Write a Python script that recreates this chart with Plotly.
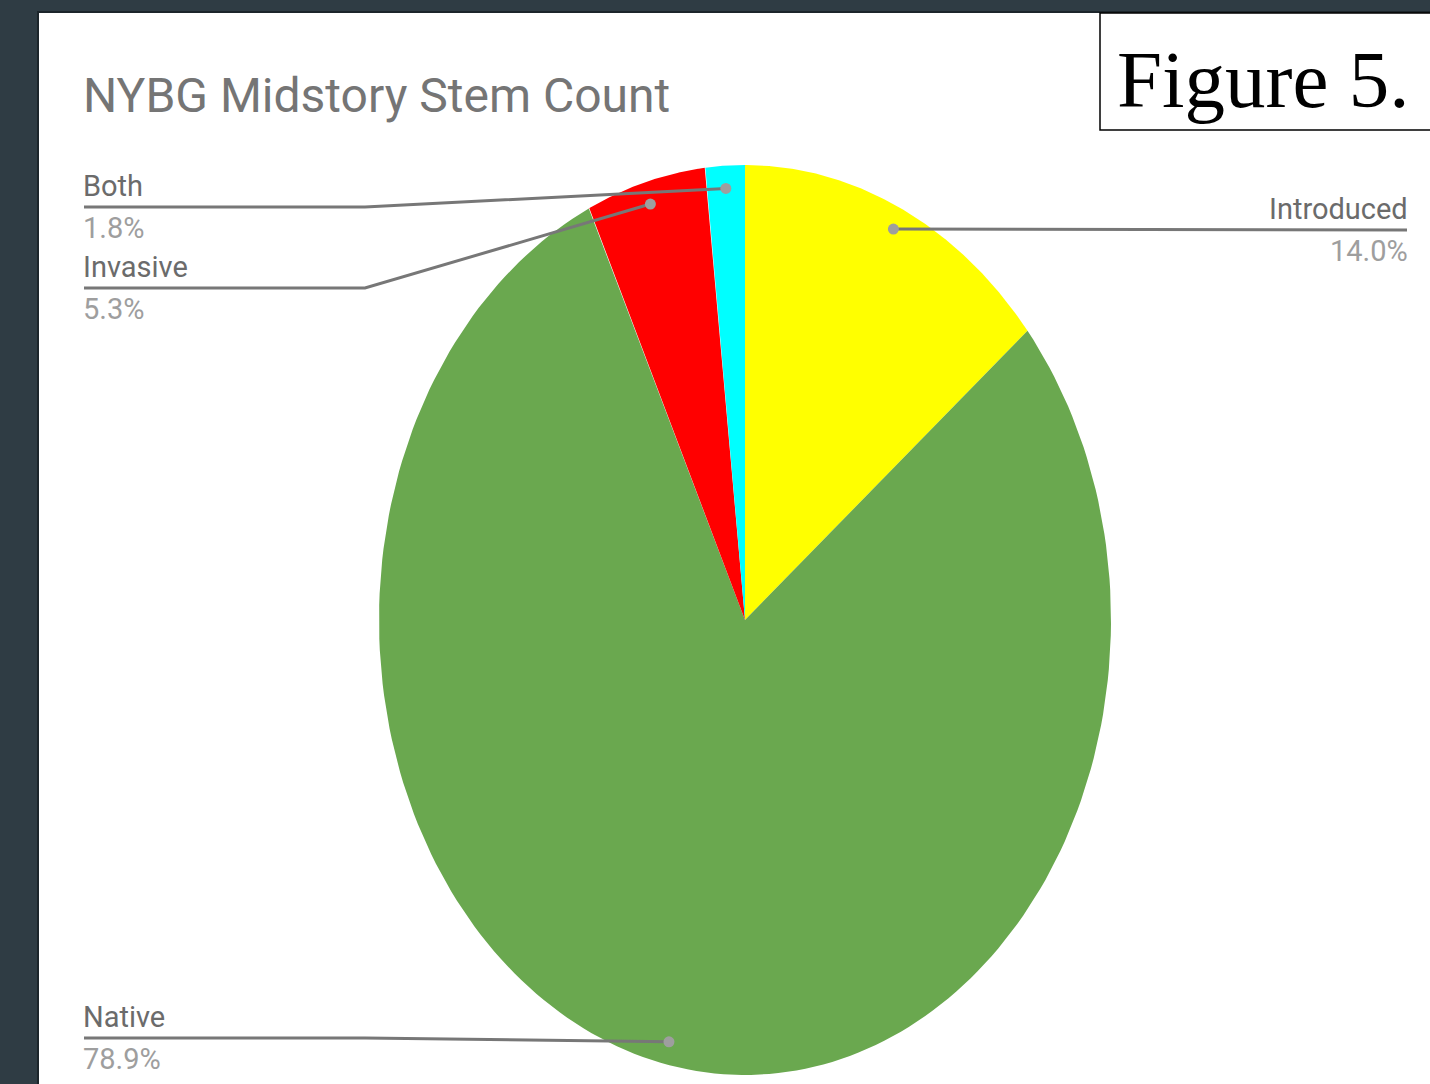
import numpy as np
import plotly.graph_objects as go

# ---- data ----
categories = ["Introduced", "Native", "Invasive", "Both"]
stem_counts = [8, 45, 3, 1]
slice_colors = ["#ffff00", "#6aa84f", "#ff0000", "#00ffff"]
title_text = "NYBG Midstory Stem Count"
figure_label = "Figure 5."

# ---- layout constants (pixel space) ----
W, H = 1430, 1084
CX, CY, RX, RY = 745, 620, 366, 455
DOT_R = 0.95

vals = np.array(stem_counts, dtype=float)
fracs = vals / vals.sum()
bounds = np.concatenate([[0], np.cumsum(fracs)]) * 2 * np.pi

fig = go.Figure()

# slices (clockwise from 12 o'clock)
for i, (name, col) in enumerate(zip(categories, slice_colors)):
    th = np.linspace(bounds[i], bounds[i + 1], 200)
    xs = np.concatenate([[CX], CX + RX * np.sin(th), [CX]])
    ys = np.concatenate([[CY], CY - RY * np.cos(th), [CY]])
    fig.add_trace(go.Scatter(x=xs, y=ys, mode="lines", fill="toself",
                             fillcolor=col, line=dict(width=0, color=col),
                             hoverinfo="text", text=name, showlegend=False))

# label geometry
label_pos = {
    "Introduced": dict(ly=230, side="right", end=1407),
    "Both": dict(ly=207, side="left", end=84),
    "Invasive": dict(ly=288, side="left", end=84),
    "Native": dict(ly=1038, side="left", end=84),
}

mids = (bounds[:-1] + bounds[1:]) / 2
dot_x, dot_y = [], []
for i, name in enumerate(categories):
    dx = CX + RX * DOT_R * np.sin(mids[i])
    dy = CY - RY * DOT_R * np.cos(mids[i])
    dot_x.append(dx)
    dot_y.append(dy)
    p = label_pos[name]
    if p["side"] == "left":
        lx = [dx, 365, p["end"]]
        ly = [dy, p["ly"], p["ly"]]
        xa = "left"
        tx = p["end"] - 2
    else:
        lx = [dx, p["end"]]
        ly = [dy, p["ly"]]
        xa = "right"
        tx = p["end"] + 2
    fig.add_trace(go.Scatter(x=lx, y=ly, mode="lines",
                             line=dict(color="#777777", width=3),
                             hoverinfo="skip", showlegend=False))
    fig.add_annotation(x=tx, y=p["ly"] - 3, text=name, showarrow=False,
                       xanchor=xa, yanchor="bottom", xref="x", yref="y",
                       borderpad=0,
                       font=dict(family="Roboto", size=29, color="#6b6b6b"))
    fig.add_annotation(x=tx, y=p["ly"] + 3, text=f"{fracs[i]*100:.1f}%",
                       showarrow=False, xanchor=xa, yanchor="top",
                       xref="x", yref="y", borderpad=0,
                       font=dict(family="Roboto", size=29, color="#9e9e9e"))

fig.add_trace(go.Scatter(x=dot_x, y=dot_y, mode="markers",
                         marker=dict(color="#9e9e9e", size=11),
                         hoverinfo="skip", showlegend=False))

# title
fig.add_annotation(x=82, y=95, text=title_text, showarrow=False,
                   xanchor="left", yanchor="middle", xref="x", yref="y",
                   borderpad=0,
                   font=dict(family="Roboto", size=48, color="#757575"))

# figure label box
fig.add_shape(type="rect", x0=1100, y0=13, x1=1432, y1=130, xref="x", yref="y",
              line=dict(color="#000000", width=1.5), fillcolor="white", layer="above")
fig.add_annotation(x=1263, y=80, text=figure_label, showarrow=False,
                   xanchor="center", yanchor="middle", xref="x", yref="y",
                   font=dict(family="Liberation Serif", size=81, color="#000000"))

# white panel
fig.add_shape(type="rect", x0=38, y0=12, x1=1432, y1=1090, xref="x", yref="y",
              line=dict(color="#1c252b", width=2), fillcolor="white", layer="below")

fig.update_layout(
    width=W, height=H,
    margin=dict(l=0, r=0, t=0, b=0),
    paper_bgcolor="#2f3c44", plot_bgcolor="rgba(0,0,0,0)",
    xaxis=dict(range=[0, W], visible=False, fixedrange=True),
    yaxis=dict(range=[H, 0], visible=False, fixedrange=True),
    showlegend=False,
)

fig.write_html("out.html")
